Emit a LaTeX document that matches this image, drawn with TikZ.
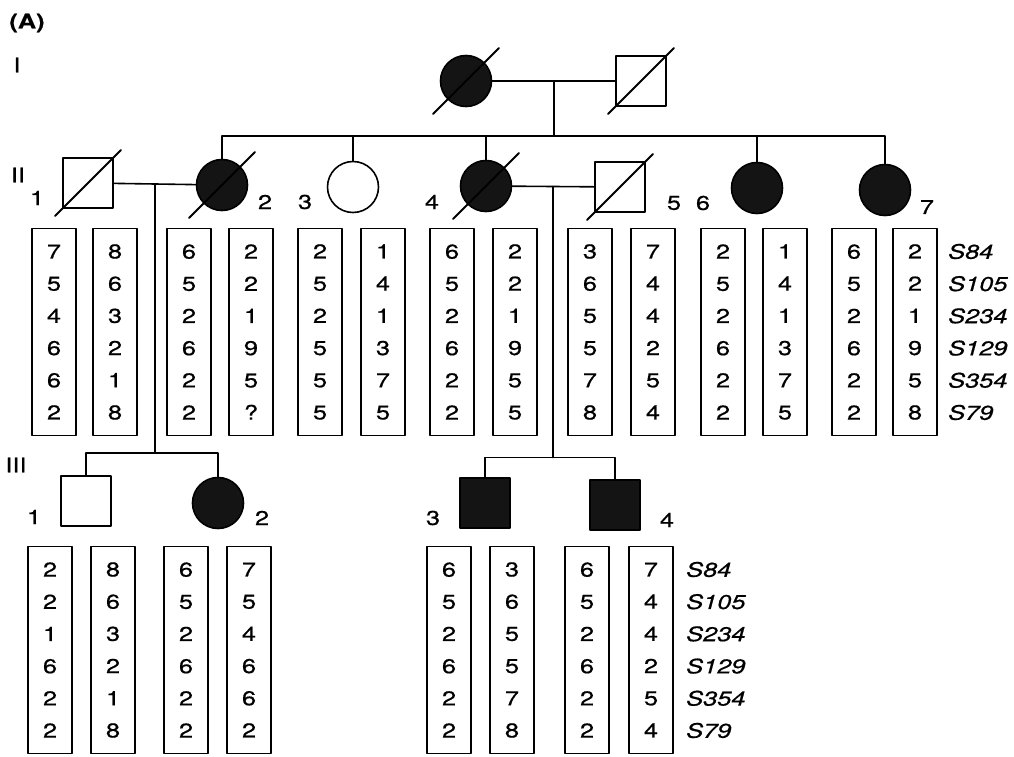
\documentclass[tikz,border=0pt]{standalone}
\usepackage{fontspec}
\setmainfont{TeX Gyre Heros}[FakeStretch=1.27, FakeBold=0.6]
\usetikzlibrary{calc}

\begin{document}
\begin{tikzpicture}[x=1pt, y=-1pt, line cap=round, line join=round]

% ---------------- styles ----------------
\tikzset{
  female/.style={circle, draw, line width=1.6pt, minimum size=51pt, inner sep=0pt},
  male/.style={rectangle, draw, line width=1.6pt, minimum size=50pt, inner sep=0pt},
  affected/.style={fill=black!92},
  link/.style={line width=1.6pt},
  slash/.style={line width=1.9pt},
  hap/.style={draw, line width=1.5pt, minimum width=44pt, minimum height=207pt,
    inner sep=0pt, align=center, font=\fontsize{20}{32.2}\selectfont},
  marker/.style={anchor=west, align=left, inner sep=0pt,
    font=\fontsize{20}{32.2}\selectfont\itshape},
  num/.style={inner sep=0pt, font=\fontsize{20}{22}\selectfont}
}

\useasboundingbox (0,0) rectangle (1014,757);

% ---------------- panel and generations ----------------
\node[num, font=\fontsize{20}{22}\selectfont\bfseries] (panel) at (27,23) {(A)};
\node[num] (genI) at (17,65) {I};
\node[num] (genII) at (18,175) {II};
\node[num] (genIII) at (16,465) {III};

% ---------------- generation I ----------------
\node[female, affected] (I1) at (466,81) {};
\node[male] (I2) at (641,81) {};
\draw[slash] ($(I1)+(-33,33)$) -- ($(I1)+(33,-33)$);
\draw[slash] ($(I2)+(-33,33)$) -- ($(I2)+(33,-33)$);

\draw[link] (I1) -- coordinate (mI) (I2);
\draw[link] (mI) -- ++(0,55) coordinate (jII);

% ---------------- generation II ----------------
\node[male] (II1) at (88,183) {};
\node[female, affected] (II2) at (222,185) {};
\node[female] (II3) at (353,187) {};
\node[female, affected] (II4) at (486,186) {};
\node[male] (II5) at (620,187) {};
\node[female, affected] (II6) at (757,188) {};
\node[female, affected] (II7) at (885,190) {};

\draw[slash] ($(II1)+(-33,33)$) -- ($(II1)+(33,-33)$);
\draw[slash] ($(II2)+(-33,33)$) -- ($(II2)+(33,-33)$);
\draw[slash] ($(II4)+(-33,33)$) -- ($(II4)+(33,-33)$);
\draw[slash] ($(II5)+(-33,33)$) -- ($(II5)+(33,-33)$);

% sibship of I
\draw[link] (II2.north) |- (jII) -| (II7.north);
\draw[link] (II3.north) -- (II3.north |- jII);
\draw[link] (II4.north) -- (II4.north |- jII);
\draw[link] (II6.north) -- (II6.north |- jII);

% couples
\draw[link] (II1) -- coordinate (mIIa) (II2);
\draw[link] (II4) -- coordinate (mIIb) (II5);
\draw[link] (mIIa) -- ++(0,269) coordinate (jIIIa);
\draw[link] (mIIb) -- ++(0,271) coordinate (jIIIb);

\node[num] (nII1) at ($(II1)+(-51,15)$) {1};
\node[num] (nII2) at ($(II2)+(43,17)$) {2};
\node[num] (nII3) at ($(II3)+(-48,15)$) {3};
\node[num] (nII4) at ($(II4)+(-54,16)$) {4};
\node[num] (nII5) at ($(II5)+(54,16)$) {5};
\node[num] (nII6) at ($(II6)+(-54,15)$) {6};
\node[num] (nII7) at ($(II7)+(42,17)$) {7};

% haplotypes II
\node[hap] (hapII1a) at (54,332) {7\\5\\4\\6\\6\\2};
\node[hap] (hapII1b) at (115,332) {8\\6\\3\\2\\1\\8};
\node[hap] (hapII2a) at (189,332) {6\\5\\2\\6\\2\\2};
\node[hap] (hapII2b) at (251,332) {2\\2\\1\\9\\5\\?};
\node[hap] (hapII3a) at (320,332) {2\\5\\2\\5\\5\\5};
\node[hap] (hapII3b) at (383,332) {1\\4\\1\\3\\7\\5};
\node[hap] (hapII4a) at (452,332) {6\\5\\2\\6\\2\\2};
\node[hap] (hapII4b) at (515,332) {2\\2\\1\\9\\5\\5};
\node[hap] (hapII5a) at (590,332) {3\\6\\5\\5\\7\\8};
\node[hap] (hapII5b) at (653,332) {7\\4\\4\\2\\5\\4};
\node[hap] (hapII6a) at (723,332) {2\\5\\2\\6\\2\\2};
\node[hap] (hapII6b) at (785,332) {1\\4\\1\\3\\7\\5};
\node[hap] (hapII7a) at (854,332) {6\\5\\2\\6\\2\\2};
\node[hap] (hapII7b) at (915,332) {2\\2\\1\\9\\5\\8};
\node[marker] (markII) at (948,332) {S84\\S105\\S234\\S129\\S354\\S79};

% ---------------- generation III ----------------
\node[male] (III1) at (86,501) {};
\node[female, affected] (III2) at (218,503) {};
\node[male, affected] (III3) at (485,503) {};
\node[male, affected] (III4) at (615,505) {};

\draw[link] (III1.north) |- (jIIIa) -| (III2.north);
\draw[link] (III3.north) |- (jIIIb) -| (III4.north);

\node[num] (nIII1) at ($(III1)+(-52,16)$) {1};
\node[num] (nIII2) at ($(III2)+(44,15)$) {2};
\node[num] (nIII3) at ($(III3)+(-52,15)$) {3};
\node[num] (nIII4) at ($(III4)+(52,15)$) {4};

% haplotypes III
\node[hap] (hapIII1a) at (50,650) {2\\2\\1\\6\\2\\2};
\node[hap] (hapIII1b) at (113,650) {8\\6\\3\\2\\1\\8};
\node[hap] (hapIII2a) at (186,650) {6\\5\\2\\6\\2\\2};
\node[hap] (hapIII2b) at (249,650) {7\\5\\4\\6\\6\\2};
\node[hap] (hapIII3a) at (449,650) {6\\5\\2\\6\\2\\2};
\node[hap] (hapIII3b) at (512,650) {3\\6\\5\\5\\7\\8};
\node[hap] (hapIII4a) at (587,650) {6\\5\\2\\6\\2\\2};
\node[hap] (hapIII4b) at (651,650) {7\\4\\4\\2\\5\\4};
\node[marker] (markIII) at (686,650) {S84\\S105\\S234\\S129\\S354\\S79};

\end{tikzpicture}
\end{document}
